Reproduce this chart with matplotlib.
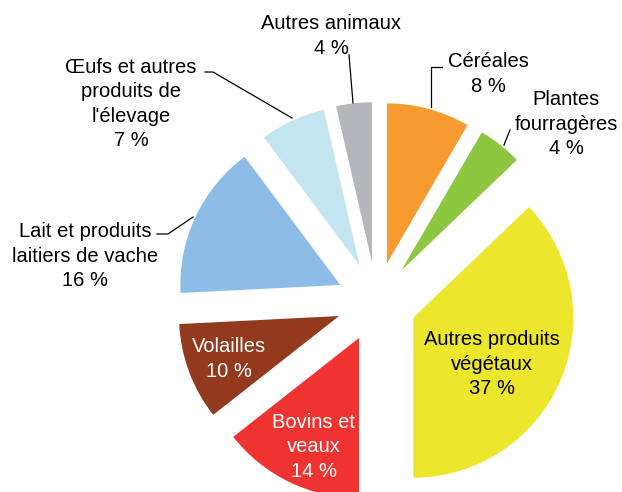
import matplotlib
matplotlib.use("Agg")
import matplotlib.pyplot as plt

plt.rcParams['font.family'] = ['Liberation Sans', 'DejaVu Sans']

labels = ["Céréales", "Plantes\nfourragères", "Autres produits\nvégétaux", "Bovins et\nveaux",
          "Volailles", "Lait et produits\nlaitiers de vache", "Œufs et autres\nproduits de\nl'élevage",
          "Autres animaux"]
values = [8.4, 4.45, 37.15, 14.4, 9.8, 15.6, 6.6, 3.6]
pct_labels = [8, 4, 37, 14, 10, 16, 7, 4]
colors = ["#F79A30", "#8DC63F", "#ECE62C", "#EE3330", "#92391E", "#8DBDE6", "#C3E5F0", "#B5B6BA"]

W, H = 622, 492

fig = plt.figure(figsize=(W / 100, H / 100), dpi=100)
ax = fig.add_axes([0, 0, 1, 1])

# pie centre / radius in pixel units (y measured upward); explode is absolute here
cx, cy, R = 376.5, H - 302, 160
ax.pie(values, colors=colors, startangle=90, counterclock=False,
       center=(cx, cy), radius=R, explode=[40] * len(values),
       wedgeprops=dict(linewidth=0))

ax.set_xlim(0, W)
ax.set_ylim(0, H)
ax.axis('off')

# label placement (pixel coords, y down), text colour
label_pos = [(488, 74), (566, 124), (492, 364), (314, 447), (229, 359), (85, 256), (131, 104), (331, 36)]
text_col = ["black", "black", "black", "white", "white", "black", "black", "black"]

for lab, p, (x, y), c in zip(labels, pct_labels, label_pos, text_col):
    ax.text(x, H - y, "{}\n{} %".format(lab, p), ha='center', va='center', multialignment='center',
            fontsize=14.5, color=c, linespacing=1.36)

# leader lines (pixel coords, y down)
leaders = [
    [(442, 67), (431, 67), (431, 107)],
    [(510, 130), (504, 145)],
    [(205, 72), (213, 72), (292, 118)],
    [(157, 234), (168, 234), (193, 217)],
    [(349, 55), (353, 103)],
]
for pts in leaders:
    xs = [p[0] for p in pts]
    ys = [H - p[1] for p in pts]
    ax.plot(xs, ys, color="black", linewidth=0.9)

plt.savefig("out.png", dpi=100)
